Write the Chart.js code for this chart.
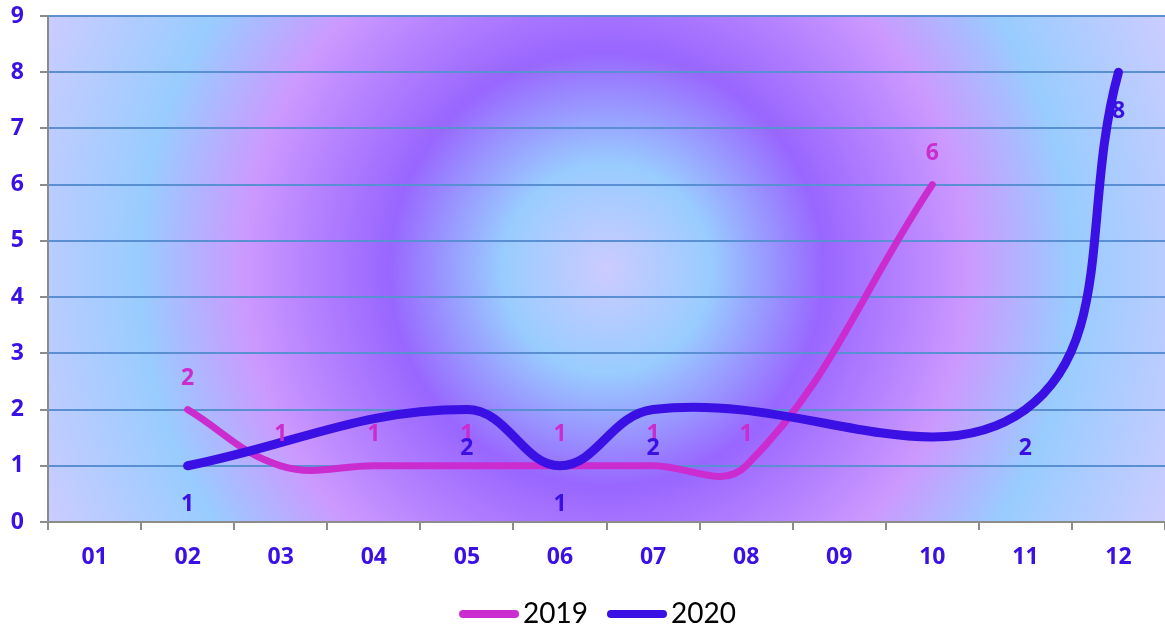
<!DOCTYPE html>
<html>
<head>
<meta charset="utf-8">
<script src="https://cdn.jsdelivr.net/npm/chart.js@4/dist/chart.umd.min.js"></script>
<style>
  html, body { margin: 0; padding: 0; background: #fff; }
</style>
</head>
<body>
<canvas id="chart" width="1165" height="628"></canvas>
<script>
// month categories and the two yearly series (gaps are months with no value)
const months = ['01', '02', '03', '04', '05', '06', '07', '08', '09', '10', '11', '12'];
const values2019 = [null, 2, 1, 1, 1, 1, 1, 1, null, 6, null, null];
const values2020 = [null, 1, null, null, 2, 1, 2, null, null, null, 2, 8];
const seriesNames = ['2019', '2020'];

const tickBlue = '#3a10e5';
const pink = '#cb2ccf';
const axisGrey = '#8c8c8c';
const BOLD_FONT = 'Noto Sans';
const LEGEND_FONT = 'Lato';

// label offset (px) from each point: 2019 above, 2020 below
const labelShift = [-31, 39];

const bgGradient = {
  id: 'bgGradient',
  beforeDraw(chart) {
    const { ctx, chartArea: a } = chart;
    const cx = (a.left + a.right) / 2, cy = (a.top + a.bottom) / 2;
    const r = Math.hypot(a.right - cx, a.bottom - cy);
    const g = ctx.createRadialGradient(cx, cy, 0, cx, cy, r);
    g.addColorStop(0, '#cccbff');
    g.addColorStop(0.17, '#99ccff');
    g.addColorStop(0.355, '#9966ff');
    g.addColorStop(0.59, '#cc99ff');
    g.addColorStop(0.76, '#99ccff');
    g.addColorStop(1, '#ccccff');
    ctx.save();
    ctx.fillStyle = g;
    ctx.fillRect(a.left, a.top, a.width, a.height);
    ctx.restore();
  }
};

const pointLabels = {
  id: 'pointLabels',
  afterDatasetsDraw(chart) {
    const ctx = chart.ctx;
    chart.data.datasets.forEach((ds, i) => {
      const meta = chart.getDatasetMeta(i);
      ctx.save();
      ctx.font = 'bold 23px "' + BOLD_FONT + '"';
      ctx.fillStyle = ds.borderColor;
      ctx.textAlign = 'center';
      ctx.textBaseline = 'middle';
      meta.data.forEach((pt, j) => {
        const v = ds.data[j];
        if (v == null) return;
        ctx.fillText(String(v), pt.x, pt.y + labelShift[i]);
      });
      ctx.restore();
    });
  }
};

// nudge the legend a little to the right, as in the original
const legendNudge = {
  id: 'legendNudge',
  afterLayout(chart) {
    if (chart.legend) {
      chart.legend.left += 10;
      chart.legend.right += 10;
    }
  }
};

// legend swatch: a thick rounded line that sits right against the text
function legendLine(color) {
  const c = document.createElement('canvas');
  c.width = 82;
  c.height = 12;
  const g = c.getContext('2d');
  g.strokeStyle = color;
  g.lineWidth = 8;
  g.lineCap = 'round';
  g.beginPath();
  g.moveTo(25, 6);
  g.lineTo(77, 6);
  g.stroke();
  return c;
}

const tickFont = { family: BOLD_FONT, weight: 'bold', size: 23 };

new Chart(document.getElementById('chart'), {
  type: 'line',
  data: {
    labels: months,
    datasets: [
      {
        label: seriesNames[0],
        data: values2019,
        borderColor: pink,
        backgroundColor: pink,
        borderWidth: 7,
        order: 1
      },
      {
        label: seriesNames[1],
        data: values2020,
        borderColor: tickBlue,
        backgroundColor: tickBlue,
        borderWidth: 9,
        order: 0
      }
    ]
  },
  options: {
    responsive: false,
    animation: false,
    spanGaps: true,
    layout: { padding: { top: 16, right: 0, left: 0, bottom: -10 } },
    elements: {
      line: { tension: 0.4, borderCapStyle: 'round', borderJoinStyle: 'round', fill: false },
      point: { radius: 0, hoverRadius: 0 }
    },
    scales: {
      x: {
        offset: true,
        grid: { offset: true, drawOnChartArea: false, color: axisGrey, lineWidth: 2, tickLength: 8 },
        border: { color: axisGrey, width: 2 },
        ticks: { color: tickBlue, font: tickFont, padding: 14 },
        afterFit(s) {
          s.height = 69;
          s.paddingLeft = 0;
          s.paddingRight = 0;
        }
      },
      y: {
        min: 0,
        max: 9,
        ticks: { stepSize: 1, color: tickBlue, font: tickFont, padding: 16 },
        grid: {
          color: (c) => (c.tick && c.tick.value === 0 ? axisGrey : '#5b8fd3'),
          lineWidth: 2,
          tickColor: axisGrey,
          tickLength: 8
        },
        border: { color: axisGrey, width: 2 },
        afterFit(s) {
          s.width = 48;
          s.paddingTop = 0;
          s.paddingBottom = 0;
        }
      }
    },
    plugins: {
      tooltip: { enabled: false },
      legend: {
        position: 'bottom',
        labels: {
          usePointStyle: true,
          pointStyleWidth: 60,
          padding: 9,
          color: '#000',
          font: { family: LEGEND_FONT, size: 28 },
          generateLabels(chart) {
            return chart.data.datasets.map((ds, i) => ({
              text: ds.label,
              pointStyle: legendLine(ds.borderColor),
              fillStyle: ds.borderColor,
              strokeStyle: ds.borderColor,
              lineWidth: 0,
              fontColor: '#000',
              hidden: false,
              datasetIndex: i
            }));
          }
        }
      }
    }
  },
  plugins: [bgGradient, pointLabels, legendNudge]
});
</script>
</body>
</html>
